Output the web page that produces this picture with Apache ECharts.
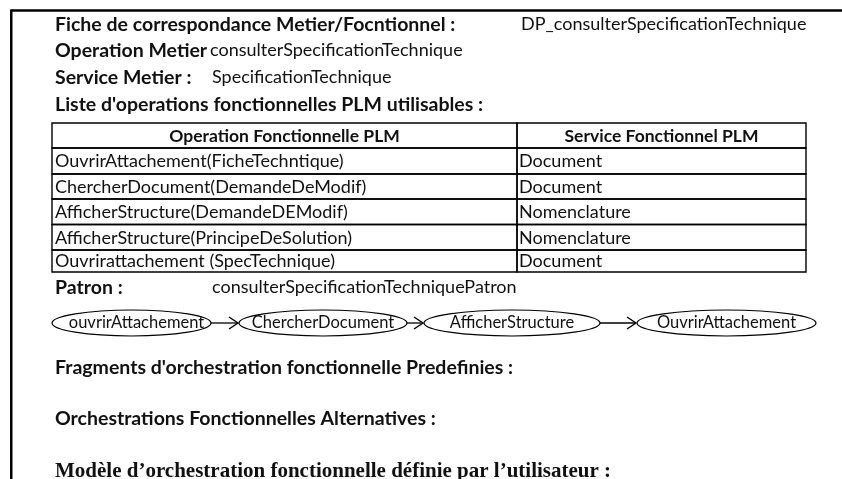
<!DOCTYPE html>
<html><head><meta charset="utf-8">
<script src="https://cdn.jsdelivr.net/npm/echarts@6/dist/echarts.min.js"></script>
<style>html,body{margin:0;padding:0;background:#fff}#c{width:842px;height:479px}</style>
</head><body><div id="c"></div>
<script>
// ---- content ----
const headLabels = ['Fiche de correspondance Metier/Focntionnel :', 'Operation Metier', 'Service Metier :', "Liste d'operations fonctionnelles PLM utilisables :"];
const headValues = ['DP_consulterSpecificationTechnique', 'consulterSpecificationTechnique', 'SpecificationTechnique', ''];
const tableHeader = ['Operation Fonctionnelle PLM', 'Service Fonctionnel PLM'];
const operations = ['OuvrirAttachement(FicheTechntique)', 'ChercherDocument(DemandeDeModif)', 'AfficherStructure(DemandeDEModif)', 'AfficherStructure(PrincipeDeSolution)', 'Ouvrirattachement (SpecTechnique)'];
const services = ['Document', 'Document', 'Nomenclature', 'Nomenclature', 'Document'];
const patronLabel = 'Patron :';
const patronName = 'consulterSpecificationTechniquePatron';
const patronSteps = ['ouvrirAttachement', 'ChercherDocument', 'AfficherStructure', 'OuvrirAttachement'];
const sectionTitles = ["Fragments d'orchestration fonctionnelle Predefinies :", 'Orchestrations Fonctionnelles Alternatives :', 'Modèle d’orchestration fonctionnelle définie par l’utilisateur :'];

// ---- layout ----
const FONT = 'Lato, "Open Sans", sans-serif';
const INK = '#111';
const HEAD_B = 'bold 19.5px ' + FONT;
const HEAD_N = '18px ' + FONT;
const headY = [24.5, 50.5, 77.5, 104.5];
const headValX = [521, 210, 212, 0];
const tableX = [52, 517, 806];
const rowEdges = [123, 148, 174, 199, 224.5, 250, 272];
const ellX = [[52, 211], [239, 407], [424, 600], [637, 816]];
const ellY = [310, 336];
const sectionY = [367.5, 418.5, 470.5];

const chart = echarts.init(document.getElementById('c'), null, {renderer: 'canvas'});

const tableRows = [tableHeader].concat(operations.map((o, i) => [o, services[i]]));

const graphics = [];
graphics.push({type: 'line', shape: {x1: 11.25, y1: 10.5, x2: 842, y2: 10.5}, style: {stroke: '#000', lineWidth: 2.5}, silent: true});
graphics.push({type: 'line', shape: {x1: 11.25, y1: 9.5, x2: 11.25, y2: 479}, style: {stroke: '#000', lineWidth: 2.5}, silent: true});
headLabels.forEach((t, i) => {
  graphics.push({type: 'text', x: 55, y: headY[i], style: {text: t, font: HEAD_B, fill: INK, verticalAlign: 'middle'}});
  if (headValues[i]) graphics.push({type: 'text', x: headValX[i], y: headY[i], style: {text: headValues[i], font: HEAD_N, fill: INK, verticalAlign: 'middle'}});
});
graphics.push({type: 'text', x: 55, y: 287.5, style: {text: patronLabel, font: HEAD_B, fill: INK, verticalAlign: 'middle'}});
graphics.push({type: 'text', x: 212, y: 287.5, style: {text: patronName, font: HEAD_N, fill: INK, verticalAlign: 'middle'}});
sectionTitles.forEach((t, i) => {
  const serif = i === 2;
  graphics.push({type: 'text', x: 55, y: sectionY[i] + (serif ? 1 : 0), style: {text: t, font: serif ? 'bold 21px "Liberation Serif", serif' : HEAD_B, fill: INK, verticalAlign: 'middle'}});
});

function renderTable(params, api) {
  const i = params.dataIndex;
  const row = tableRows[i];
  const p0 = api.coord([tableX[0], rowEdges[i]]);
  const p1 = api.coord([tableX[1], rowEdges[i + 1]]);
  const p2 = api.coord([tableX[2], rowEdges[i + 1]]);
  const cy = (p0[1] + p1[1]) / 2 + 0.5;
  const header = i === 0;
  const font = header ? 'bold 17.5px ' + FONT : '18px ' + FONT;
  const children = [
    {type: 'rect', shape: {x: p0[0], y: p0[1], width: p1[0] - p0[0], height: p1[1] - p0[1]}, style: {fill: 'none', stroke: '#000', lineWidth: 1.4}},
    {type: 'rect', shape: {x: p1[0], y: p0[1], width: p2[0] - p1[0], height: p1[1] - p0[1]}, style: {fill: 'none', stroke: '#000', lineWidth: 1.4}},
    {type: 'text', style: {text: row[0], x: header ? (p0[0] + p1[0]) / 2 : p0[0] + 3, y: cy, align: header ? 'center' : 'left', verticalAlign: 'middle', font, fill: INK}},
    {type: 'text', style: {text: row[1], x: header ? (p1[0] + p2[0]) / 2 : p1[0] + 2, y: cy, align: header ? 'center' : 'left', verticalAlign: 'middle', font, fill: INK}}
  ];
  return {type: 'group', children};
}

function renderFlow(params, api) {
  const i = params.dataIndex;
  const a = api.coord([ellX[i][0], ellY[0]]);
  const b = api.coord([ellX[i][1], ellY[1]]);
  const cx = (a[0] + b[0]) / 2, cy = (a[1] + b[1]) / 2;
  const children = [
    {type: 'ellipse', shape: {cx, cy, rx: (b[0] - a[0]) / 2, ry: (b[1] - a[1]) / 2}, style: {fill: '#fff', stroke: '#000', lineWidth: 1.2}},
    {type: 'text', style: {text: patronSteps[i], x: cx + (i === 0 ? 5 : 0), y: cy, align: 'center', verticalAlign: 'middle', font: '16.5px ' + FONT, fill: INK}}
  ];
  if (i < patronSteps.length - 1) {
    const n = api.coord([ellX[i + 1][0], ellY[0]]);
    const x1 = b[0], x2 = n[0];
    children.push({type: 'line', shape: {x1, y1: cy, x2: x2 - 1, y2: cy}, style: {stroke: '#000', lineWidth: 1.3}});
    children.push({type: 'polyline', shape: {points: [[x2 - 10, cy - 6], [x2 - 1, cy], [x2 - 10, cy + 6]]}, style: {stroke: '#000', lineWidth: 1.4, fill: 'none'}});
  }
  return {type: 'group', children};
}

chart.setOption({
  animation: false,
  grid: {left: 0, right: 0, top: 0, bottom: 0},
  xAxis: {type: 'value', min: 0, max: 842, show: false},
  yAxis: {type: 'value', min: 0, max: 479, inverse: true, show: false},
  graphic: graphics,
  series: [
    {type: 'custom', renderItem: renderTable, data: tableRows.map((r, i) => [i]), silent: true},
    {type: 'custom', renderItem: renderFlow, data: patronSteps.map((s, i) => [i]), silent: true}
  ]
});
</script>
</body></html>
